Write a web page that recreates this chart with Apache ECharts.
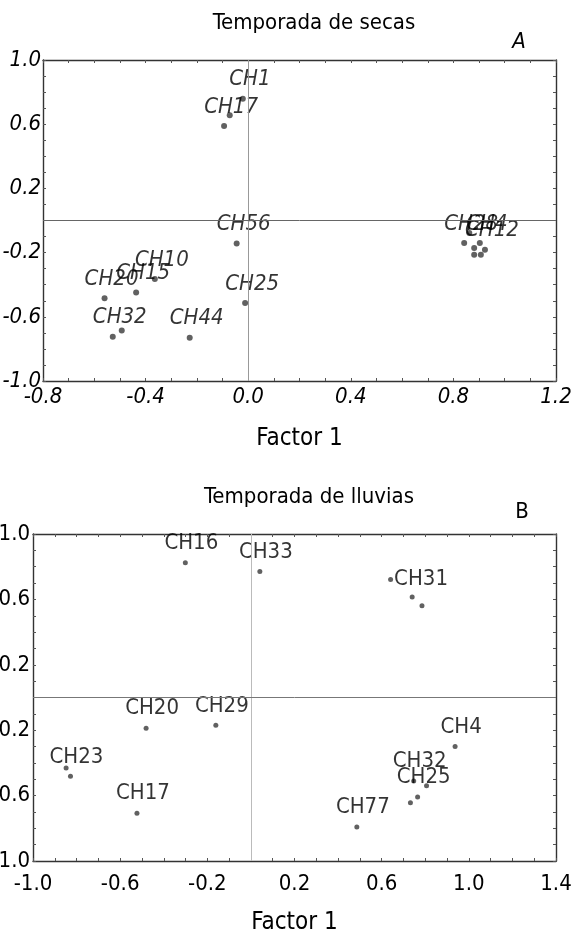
<!DOCTYPE html>
<html>
<head>
<meta charset="utf-8">
<script src="https://cdn.jsdelivr.net/npm/echarts@6/dist/echarts.min.js"></script>
<style>
  html, body { margin: 0; padding: 0; background: #fff; }
  #main { width: 572px; height: 932px; }
</style>
</head>
<body>
<div id="main"></div>
<script>
// Temporada de secas (A)
const namesA = ['CH1', '', 'CH17', 'CH56', 'CH10', 'CH15', 'CH20', 'CH25', 'CH32', '', 'CH44',
  '', 'CH28', '', 'CH4', 'CH12', '', ''];
const xA = [-0.021, -0.072, -0.094, -0.045, -0.364, -0.437, -0.560, -0.012, -0.528, -0.493, -0.228,
  0.862, 0.842, 0.881, 0.903, 0.923, 0.881, 0.907];
const yA = [0.759, 0.655, 0.589, -0.143, -0.365, -0.448, -0.485, -0.514, -0.724, -0.685, -0.730,
  -0.078, -0.140, -0.171, -0.140, -0.182, -0.213, -0.213];

// Temporada de lluvias (B)
const namesB = ['CH16', 'CH33', 'CH31', '', '', 'CH20', 'CH29', 'CH4', '', 'CH23', 'CH32', '', 'CH25', '', 'CH77', 'CH17'];
const xB = [-0.301, 0.041, 0.641, 0.740, 0.785, -0.481, -0.161, 0.937, -0.848, -0.828, 0.747, 0.806, 0.765, 0.732, 0.486, -0.523];
const yB = [0.824, 0.771, 0.722, 0.614, 0.561, -0.188, -0.170, -0.300, -0.431, -0.482, -0.511, -0.539, -0.609, -0.643, -0.792, -0.708];

const xRangeA = [-0.8, 1.2];
const xRangeB = [-1.0, 1.4];
const yRange = [-1.0, 1.0];
const step = 0.4;

const font = "'Liberation Sans Narrow', 'DejaVu Sans Condensed', 'Arial Narrow', sans-serif";
const axisColor = '#333';

function fmt(v) {
  if (Math.abs(v) < 1e-9) return '0.0';
  return v.toFixed(1);
}

function axis(grid, range, position, labels, italic, margin, extra) {
  return Object.assign({
    type: 'value',
    gridIndex: grid,
    position: position,
    min: range[0],
    max: range[1],
    interval: step,
    axisLine: { show: true, onZero: false, lineStyle: { color: axisColor, width: 1.4 } },
    axisTick: { show: true, inside: true, length: 3, lineStyle: { color: '#555' } },
    minorTick: { show: true, splitNumber: 4, length: 3, lineStyle: { color: '#555' } },
    splitLine: { show: false },
    axisLabel: {
      show: labels,
      formatter: fmt,
      margin: margin,
      color: '#000',
      fontSize: 22,
      fontFamily: font,
      fontStyle: italic ? 'italic' : 'normal',
      showMinLabel: true,
      showMaxLabel: true
    }
  }, extra || {});
}

function pts(names, xs, ys) {
  return xs.map((x, i) => [x, ys[i], names[i]]);
}

function zeroLines(vColor, hColor) {
  return {
    silent: true,
    symbol: 'none',
    label: { show: false },
    animation: false,
    data: [
      { xAxis: 0, lineStyle: { color: vColor, width: 1, type: 'solid' } },
      { yAxis: 0, lineStyle: { color: hColor, width: 1, type: 'solid' } }
    ]
  };
}

const factorName = {
  name: 'Factor 1',
  nameLocation: 'middle',
  nameTextStyle: { fontSize: 24, fontFamily: font, color: '#000' }
};

const chart = echarts.init(document.getElementById('main'));
const option = {
  animation: false,
  backgroundColor: '#fff',
  grid: [
    { left: 43, right: 16, top: 60, height: 321, outerBoundsMode: 'none', containLabel: false },
    { left: 33, right: 16, top: 534, height: 327, outerBoundsMode: 'none', containLabel: false }
  ],
  xAxis: [
    axis(0, xRangeA, 'bottom', true, true, 5, Object.assign({ nameGap: 46 }, factorName)),
    axis(0, xRangeA, 'top', false, false, 5),
    axis(1, xRangeB, 'bottom', true, false, 12, Object.assign({ nameGap: 50 }, factorName)),
    axis(1, xRangeB, 'top', false, false, 5)
  ],
  yAxis: [
    axis(0, yRange, 'left', true, true, 2),
    axis(0, yRange, 'right', false, false, 3),
    axis(1, yRange, 'left', true, false, 3),
    axis(1, yRange, 'right', false, false, 3)
  ],
  graphic: [
    { type: 'text', x: 314, y: 23, style: { text: 'Temporada de secas', fontSize: 22, fontFamily: font, fill: '#000', textAlign: 'center', textVerticalAlign: 'middle' } },
    { type: 'text', x: 519, y: 42, style: { text: 'A', fontSize: 22, fontStyle: 'italic', fontFamily: font, fill: '#000', textAlign: 'center', textVerticalAlign: 'middle' } },
    { type: 'text', x: 309, y: 497, style: { text: 'Temporada de lluvias', fontSize: 22, fontFamily: font, fill: '#000', textAlign: 'center', textVerticalAlign: 'middle' } },
    { type: 'text', x: 522, y: 512, style: { text: 'B', fontSize: 22, fontFamily: font, fill: '#000', textAlign: 'center', textVerticalAlign: 'middle' } }
  ],
  series: [
    {
      type: 'scatter',
      xAxisIndex: 0,
      yAxisIndex: 0,
      symbolSize: 6,
      itemStyle: { color: '#3a3a3a' },
      data: pts(namesA, xA, yA),
      label: {
        show: true,
        position: 'top',
        distance: 5,
        offset: [7, 0],
        formatter: p => p.data[2],
        fontSize: 22,
        fontStyle: 'italic',
        fontFamily: font,
        color: '#000'
      },
      markLine: zeroLines('#999', '#666'),
      z: 3
    },
    {
      type: 'scatter',
      xAxisIndex: 2,
      yAxisIndex: 2,
      symbolSize: 5,
      itemStyle: { color: '#3a3a3a' },
      data: pts(namesB, xB, yB).map(d => d[2] === 'CH31'
        ? { value: d, label: { position: 'right', distance: 1, offset: [0, 0] } }
        : d),
      label: {
        show: true,
        position: 'top',
        distance: 6,
        offset: [6, 0],
        formatter: p => p.data.value ? p.data.value[2] : p.data[2],
        fontSize: 22,
        fontFamily: font,
        color: '#000'
      },
      markLine: zeroLines('#bbb', '#777'),
      z: 3
    }
  ]
};
chart.setOption(option);
</script>
</body>
</html>
